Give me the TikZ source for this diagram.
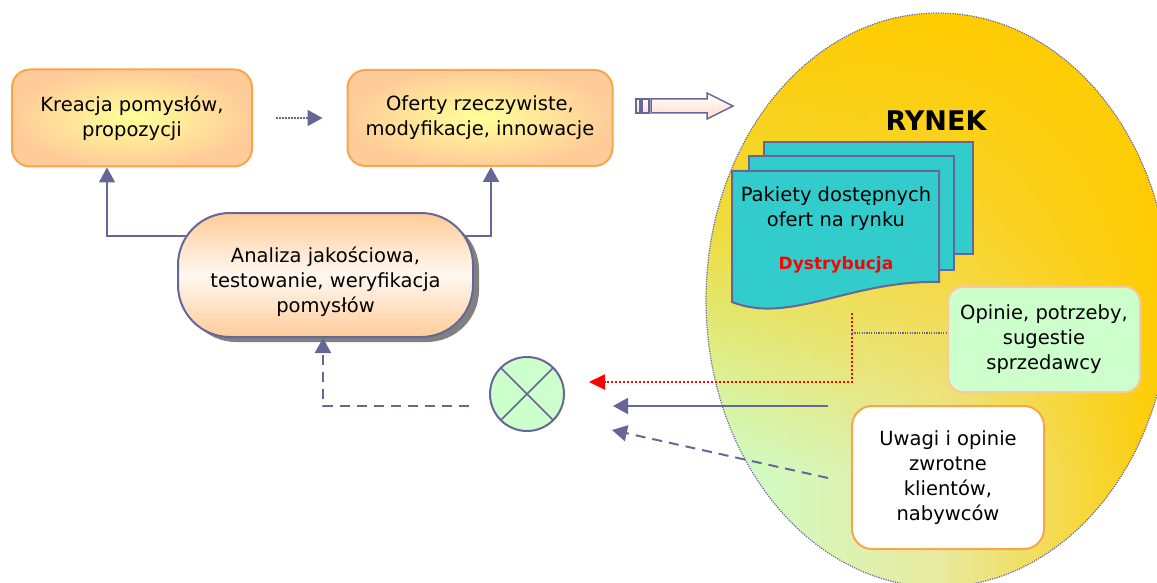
\documentclass[tikz,border=0pt]{standalone}
\usepackage{fontspec}
\setmainfont{DejaVu Sans}
\usetikzlibrary{arrows.meta,fadings,backgrounds}

\definecolor{lineblue}{HTML}{666699}
\definecolor{peach}{HTML}{FFCC99}
\definecolor{paleyellow}{HTML}{FFFF99}
\definecolor{boxorange}{HTML}{FAA54A}
\definecolor{greenfill}{HTML}{CCFFCC}
\definecolor{greenborder}{HTML}{F8C8A0}
\definecolor{docteal}{HTML}{33CCCC}
\definecolor{gold}{HTML}{FFCC00}
\definecolor{marketmid}{HTML}{E8EAA0}
\definecolor{marketgreen}{HTML}{CCFFCC}
\definecolor{shadowgray}{HTML}{808080}
\definecolor{arrowpink}{HTML}{FFDCC8}
\definecolor{pillmid}{HTML}{FFF8F0}

% upper part of the market ellipse turns gold
\tikzfading[name=goldtop, top color=transparent!0, bottom color=transparent!100, middle color=transparent!35]

\begin{document}
\begin{tikzpicture}[x=1pt,y=-1pt,
  txt/.style={font=\fontsize{19.5}{25}\selectfont, align=center},
  ideabox/.style={txt, draw=boxorange, line width=2pt, rounded corners=18pt,
    inner color=paleyellow, outer color=peach},
  pillshape/.style={rounded corners=52pt, minimum width=295pt, minimum height=124pt},
  pill/.style={pillshape, draw=lineblue, line width=2pt,
    top color=peach, bottom color=peach, middle color=pillmid},
  docpage/.style={fill=docteal, draw=lineblue, line width=2pt},
  arr/.style={-{Triangle[length=15pt,width=16pt]}},
  link/.style={lineblue, line width=2pt, arr},
  dashlink/.style={lineblue, line width=2pt, dash pattern=on 10pt off 7pt, arr},
  blockarrow/.style={draw=lineblue, line width=1.5pt, top color=white, bottom color=arrowpink}
]
\useasboundingbox (0,0) rectangle (1157,583);

% market ellipse
\shade[left color=marketgreen, right color=gold, middle color=marketmid]
  (938,300) ellipse [x radius=232, y radius=287];
\begin{scope}
  \clip (938,300) ellipse [x radius=232, y radius=287];
  \fill[gold, path fading=goldtop] (700,14) rectangle (1175,470);
\end{scope}
\draw[lineblue, line width=1.2pt, dash pattern=on 1.2pt off 1.2pt]
  (938,300) ellipse [x radius=232, y radius=287];

% top row
\node[ideabox, minimum width=240pt, minimum height=97pt] (kreacja) at (132,118)
  {Kreacja pomysłów,\\propozycji};
\node[ideabox, minimum width=265pt, minimum height=96pt] (oferty) at (480,118)
  {Oferty rzeczywiste,\\modyfikacje, innowacje};
\draw[lineblue, line width=1.5pt, dash pattern=on 1.5pt off 1.5pt, arr,
  shorten <=23pt, shorten >=24pt] (kreacja) -- (oferty);

% striped block arrow towards the market
\path[blockarrow] (636,99) rectangle (640,113);
\path[blockarrow] (642,99) rectangle (649,113);
\path[blockarrow] (651,99) -- (707,99) -- (707,93) -- (733,106) -- (707,119)
  -- (707,113) -- (651,113) -- cycle;

% analysis stage with its shadow
\node[pillshape, fill=shadowgray] (analizacien) at (331.5,280) {};
\node[pill] (analiza) at (325.5,275) {};
\node[txt] (analizatxt) at (325.5,282) {Analiza jakościowa,\\testowanie, weryfikacja\\pomysłów};

\coordinate (kl) at (107,236);
\coordinate (kr) at (491,236);
\begin{scope}[on background layer]
  \draw[link] (analiza.center |- kl) -- (kl) -- (kl |- kreacja.south);
  \draw[link] (analiza.center |- kr) -- (kr) -- (kr |- oferty.south);
\end{scope}

% market contents
\node[font=\fontsize{27}{30}\selectfont\bfseries, anchor=base] (rynek) at (936,131) {RYNEK};

\path[docpage] (764,142) rectangle (973,254);
\path[docpage] (749,156) rectangle (954,270);
\path[docpage] (732,171) -- (939,171) -- (939,282)
  .. controls (850,280) and (790,325) .. (732,302) -- cycle;
\node[txt] (pakiety) at (836,209) {Pakiety dostępnych\\ofert na rynku};
\node[font=\fontsize{17}{20}\selectfont\bfseries, text=red, anchor=base] (dystr)
  at (836,269) {Dystrybucja};

\node[txt, draw=greenborder, fill=greenfill, line width=2pt, rounded corners=15pt,
  minimum width=192pt, minimum height=105pt] (opinie) at (1044,339.5)
  {Opinie, potrzeby,\\sugestie\\sprzedawcy};
\node[txt, draw=boxorange, fill=white, line width=2pt, rounded corners=20pt,
  minimum width=192pt, minimum height=143pt] (uwagi) at (948,477.5)
  {Uwagi i opinie\\zwrotne\\klientów,\\nabywców};

% feedback summing junction
\node[circle, draw=lineblue, line width=2pt, fill=greenfill, minimum size=74pt,
  inner sep=0pt] (sumator) at (527,394) {};
\draw[lineblue, line width=1.5pt] (sumator.north west) -- (sumator.south east)
  (sumator.north east) -- (sumator.south west);

% feedback connectors
\coordinate (rtop) at (852,313);
\coordinate (rturn) at (852,382);
\draw[red, line width=2pt, dash pattern=on 2pt off 2pt,
  -{Triangle[length=16pt,width=15pt]}, shorten >=24pt]
  (rtop) -- (rturn) -- (rturn -| sumator.east);

\coordinate (otap) at (852,333);
\draw[lineblue, line width=1.2pt, dash pattern=on 1.2pt off 1.2pt] (otap) -- (otap -| opinie.west);

\coordinate (sstart) at (828,406);
\draw[link, shorten >=48pt] (sstart) -- (sstart -| sumator.east);

\coordinate (ustart) at (828,478);
\coordinate (uend) at (612,430);
\draw[dashlink] (ustart) -- (uend);

\coordinate (dstart) at (469,406);
\coordinate (dturn) at (323,406);
\draw[dashlink] (dstart) -- (dturn) -- (dturn |- analiza.south);
\end{tikzpicture}
\end{document}
